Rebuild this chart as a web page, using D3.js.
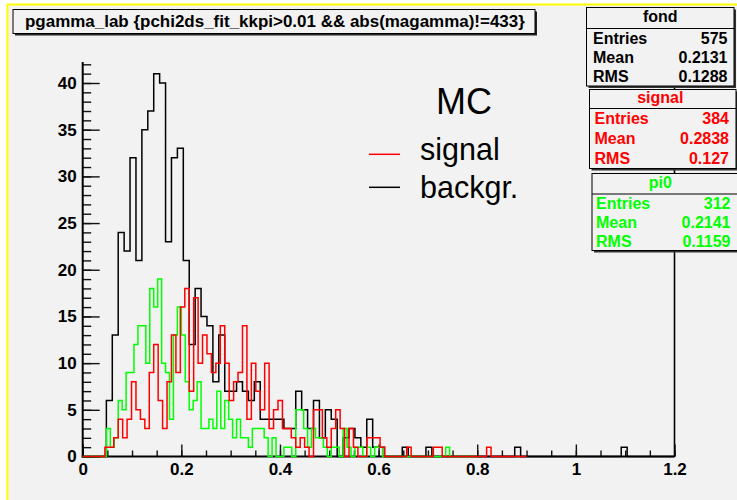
<!DOCTYPE html>
<html><head><meta charset="utf-8">
<script src="https://cdn.jsdelivr.net/npm/d3@7"></script>
<style>
html,body{margin:0;padding:0;background:#fff;}
svg{display:block;font-family:"Liberation Sans",Arial,Helvetica,sans-serif;}
</style>
</head><body>
<svg id="c" width="737" height="500"></svg>
<script>
// Bin contents of the three histograms (100 equal-width bins each)
const fondRange = [0, 1.2];
const fondCounts = [
  0,0,0,0,6,13,24,22,32,21, 35,37,41,40,23,32,33,21,12,18,
  15,14,8,13,7,7,8,7,6,8, 4,4,4,4,3,3,7,5,3,6,
  2,5,4,0,2,3,2,1,4,1, 1,0,0,0,1,0,0,0,1,0,
  0,0,0,0,0,0,0,0,0,0, 0,0,0,1,0,0,0,0,0,0,
  0,0,0,0,0,0,0,0,0,0, 0,1,0,0,0,0,0,0,0,0
];
const signalRange = [0, 0.9];
const signalCounts = [
  0,0,0,0,0,1,1,2,4,2, 4,8,5,4,3,9,12,6,3,8,
  13,9,16,18,7,17,10,13,11,9, 10,14,10,6,8,9,14,4,10,7,
  5,10,3,5,6,3,3,2,1,2, 1,0,5,5,2,1,3,5,3,0,
  3,1,0,0,2,2,2,1,0,0, 0,0,0,1,0,0,0,0,0,1,
  1,0,0,0,0,0,0,0,0,0, 0,1,0,0,0,0,0,0,0,0
];
const pi0Range = [0, 0.8];
const pi0Counts = [
  0,0,0,0,0,0,3,1,2,6, 5,9,9,12,14,14,10,18,16,19,
  10,9,4,13,16,13,8,5,6,8, 3,3,4,3,7,3,6,4,2,4,
  2,2,1,3,3,3,2,0,2,0, 0,1,1,0,5,5,3,1,3,2,
  2,1,0,1,1,0,3,1,0,1, 1,0,1,0,1,1,0,0,0,0,
  0,0,0,0,0,0,0,0,0,0, 0,0,1,0,0,0,0,0,0,0
];

// Axis ticks
const xMajorTicks = [0, 0.2, 0.4, 0.6, 0.8, 1, 1.2];
const xTickLabels = ["0", "0.2", "0.4", "0.6", "0.8", "1", "1.2"];
const yMajorTicks = [0, 5, 10, 15, 20, 25, 30, 35, 40];

// Statistics boxes
const statNames = ["fond", "signal", "pi0"];
const statEntries = ["575", "384", "312"];
const statMeans = ["0.2131", "0.2838", "0.2141"];
const statRMS = ["0.1288", "0.127", "0.1159"];
const statColors = ["#000000", "#ff0000", "#00ff00"];

// Legend
const legendHeader = "MC";
const legendLabels = ["signal", "backgr."];
const legendColors = ["#ff0000", "#000000"];

const titleText = "pgamma_lab {pchi2ds_fit_kkpi>0.01 && abs(magamma)!=433}";

const svg = d3.select("#c");

// canvas background with its yellow edge
svg.append("rect").attr("x", 7.5).attr("y", 4.5).attr("width", 760).attr("height", 520)
  .attr("fill", "#f2f2f2").attr("stroke", "#ffff00").attr("stroke-width", 2);

const X0 = 82.7, X1 = 674.5, Y0 = 456.5, YT = 62;
const x = d3.scaleLinear().domain([0, 1.2]).range([X0, X1]);
const y = d3.scaleLinear().domain([0, 40]).range([Y0, 83]);

// ---- axes ----
const gy = svg.append("g").attr("transform", `translate(${X0},0)`);
gy.call(d3.axisLeft(y).tickValues(d3.range(0, 43, 1)).tickSize(-8.5).tickFormat(""));
gy.call(g => g.select(".domain").remove());
const gyM = svg.append("g").attr("transform", `translate(${X0},0)`);
gyM.call(d3.axisLeft(y).tickValues(yMajorTicks).tickSize(-17).tickPadding(6).tickFormat(d3.format("d")));
gyM.select(".domain").remove();

const gx = svg.append("g").attr("transform", `translate(0,${Y0})`);
gx.call(d3.axisBottom(x).tickValues(d3.range(0, 1.2001, 0.05)).tickSize(-6).tickFormat(""));
gx.select(".domain").remove();
const gxM = svg.append("g").attr("transform", `translate(0,${Y0})`);
gxM.call(d3.axisBottom(x).tickValues(xMajorTicks).tickSize(-12).tickPadding(6)
  .tickFormat((d, i) => xTickLabels[i]));
gxM.select(".domain").remove();
svg.selectAll("g .tick line").attr("stroke", "#111").attr("stroke-width", 1.4);
svg.selectAll("g .tick text").attr("font-size", 17).attr("font-weight", "bold")
  .attr("fill", "#000").attr("font-family", "'Liberation Sans',Arial,sans-serif");

// axis lines and right frame edge
svg.append("line").attr("x1", X0).attr("x2", X0).attr("y1", YT).attr("y2", Y0 + 1)
  .attr("stroke", "#000").attr("stroke-width", 2);
svg.append("line").attr("x1", X0 - 1).attr("x2", X1).attr("y1", Y0).attr("y2", Y0)
  .attr("stroke", "#000").attr("stroke-width", 2);
svg.append("line").attr("x1", X1).attr("x2", X1).attr("y1", YT).attr("y2", Y0)
  .attr("stroke", "#000").attr("stroke-width", 1.6);

// ---- histograms ----
function stepPoints(counts, range) {
  const w = (range[1] - range[0]) / counts.length;
  const pts = [[range[0], 0]];
  counts.forEach((c, i) => {
    pts.push([range[0] + i * w, c]);
    pts.push([range[0] + (i + 1) * w, c]);
  });
  pts.push([range[1], 0]);
  return pts;
}
const line = d3.line().x(d => x(d[0])).y(d => y(d[1]));
[[fondCounts, fondRange, "#000000"], [pi0Counts, pi0Range, "#00ff00"], [signalCounts, signalRange, "#ff0000"]]
  .forEach(([c, r, col]) => {
    svg.append("path").attr("d", line(stepPoints(c, r)))
      .attr("fill", "none").attr("stroke", col).attr("stroke-width", 1.5)
      .attr("stroke-linejoin", "miter");
  });

// ---- title box ----
const tb = {x0: 13, x1: 535, y0: 9.5, y1: 33.5};
svg.append("rect").attr("x", tb.x0 + 2).attr("y", tb.y0 + 2).attr("width", tb.x1 - tb.x0).attr("height", tb.y1 - tb.y0)
  .attr("fill", "#222");
svg.append("rect").attr("x", tb.x0).attr("y", tb.y0).attr("width", tb.x1 - tb.x0).attr("height", tb.y1 - tb.y0)
  .attr("fill", "#f2f2f2").attr("stroke", "#000").attr("stroke-width", 1);
const tt = svg.append("text").attr("x", 25).attr("y", 26.5).attr("font-weight", "bold")
  .attr("font-size", 15).attr("fill", "#000").text(titleText);
const tw = tt.node().getComputedTextLength();
tt.attr("font-size", 15 * 500 / tw);

// ---- statistics boxes ----
const boxes = [
  {x0: 586.5, x1: 734, y0: 7.5, ys: 28.5, y1: 86},
  {x0: 589.5, x1: 736, y0: 89.5, ys: 108.5, y1: 168.5},
  {x0: 592, x1: 760, y0: 173.5, ys: 194, y1: 250.5}
];
boxes.forEach((b, i) => {
  const g = svg.append("g");
  g.append("rect").attr("x", b.x0 + 2).attr("y", b.y0 + 2).attr("width", b.x1 - b.x0).attr("height", b.y1 - b.y0)
    .attr("fill", "#333");
  g.append("rect").attr("x", b.x0).attr("y", b.y0).attr("width", b.x1 - b.x0).attr("height", b.y1 - b.y0)
    .attr("fill", "#f2f2f2").attr("stroke", "#000").attr("stroke-width", 1);
  g.append("line").attr("x1", b.x0).attr("x2", b.x1).attr("y1", b.ys).attr("y2", b.ys)
    .attr("stroke", "#000").attr("stroke-width", 1);
  const col = statColors[i];
  const cx = (586.5 + 734) / 2;
  g.append("text").attr("x", cx).attr("y", (b.y0 + b.ys) / 2 - 1.5).attr("dy", "0.36em")
    .attr("text-anchor", "middle").attr("font-weight", "bold").attr("font-size", 16)
    .attr("fill", col).text(statNames[i]);
  const h = (b.y1 - b.ys) / 3;
  const rows = [["Entries", statEntries[i]], ["Mean", statMeans[i]], ["RMS", statRMS[i]]];
  rows.forEach((r, k) => {
    const yy = b.ys + (k + 0.5) * h;
    g.append("text").attr("x", 593 + i * 1.5).attr("y", yy).attr("dy", "0.36em")
      .attr("font-weight", "bold").attr("font-size", 16).attr("fill", col).text(r[0]);
    g.append("text").attr("x", 727.5 + i * 1.5).attr("y", yy).attr("dy", "0.36em")
      .attr("text-anchor", "end").attr("font-weight", "bold").attr("font-size", 16)
      .attr("fill", col).text(r[1]);
  });
});

// ---- legend ----
svg.append("text").attr("x", 436).attr("y", 114.3).attr("font-size", 36).attr("fill", "#000")
  .text(legendHeader);
const legY = [154.3, 187.3];
legendLabels.forEach((lab, i) => {
  svg.append("line").attr("x1", 369).attr("x2", 400).attr("y1", legY[i]).attr("y2", legY[i])
    .attr("stroke", legendColors[i]).attr("stroke-width", 1.5);
  svg.append("text").attr("x", 420).attr("y", legY[i] + 6 + (i ? 5 : 0)).attr("font-size", 30.5)
    .attr("fill", "#000").text(lab);
});
</script>
</body></html>
